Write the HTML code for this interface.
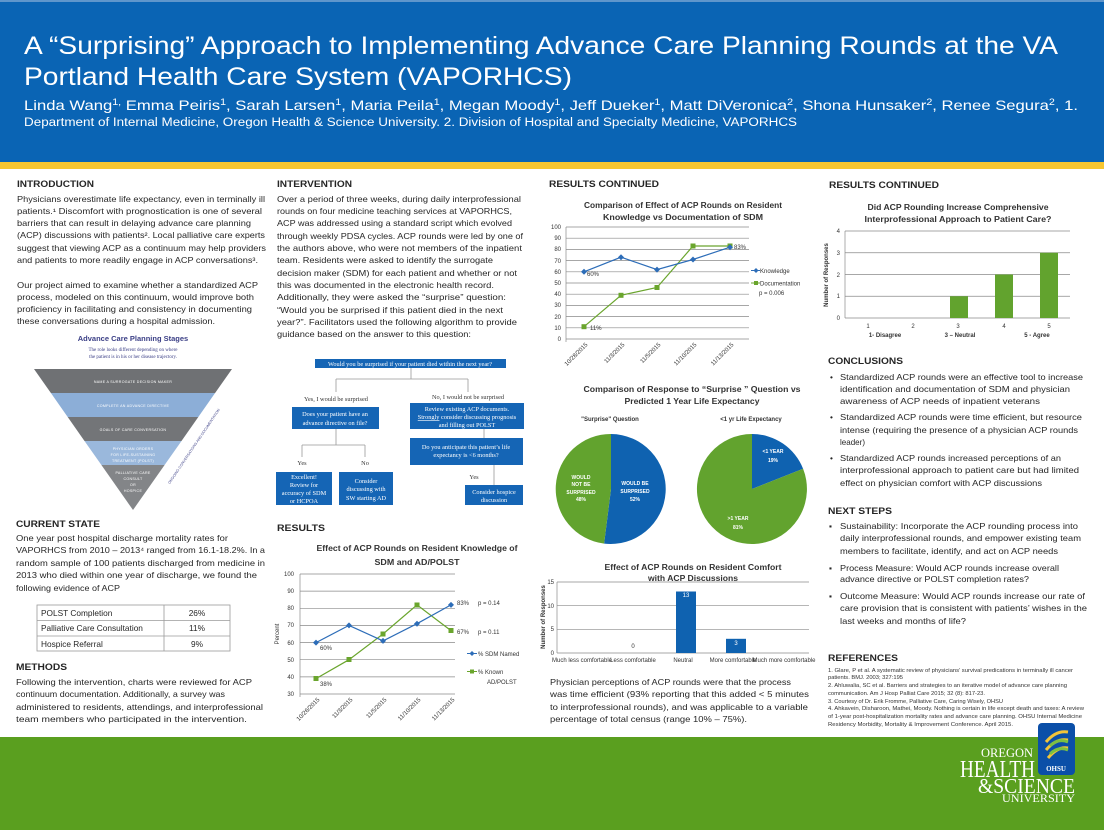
<!DOCTYPE html>
<html><head><meta charset="utf-8"><style>
html,body{margin:0;padding:0;background:#fff}
svg{display:block}
.t{font-family:"Liberation Sans",sans-serif;font-size:8.3px;fill:#262626}
.h{font-family:"Liberation Sans",sans-serif;font-size:9.5px;font-weight:bold;fill:#262626}
.ct{font-family:"Liberation Sans",sans-serif;font-size:8px;font-weight:bold;fill:#333;text-anchor:middle}
.ax{font-family:"Liberation Sans",sans-serif;font-size:6px;fill:#333}
.fc{font-family:"Liberation Serif",serif;font-size:6.3px;fill:#fff;text-anchor:middle}
.fl{font-family:"Liberation Serif",serif;font-size:6.3px;fill:#333;text-anchor:middle}
.pl{font-family:"Liberation Sans",sans-serif;font-size:5px;font-weight:bold;fill:#fff;text-anchor:middle}
.pw{font-family:"Liberation Sans",sans-serif;font-size:3.6px;fill:#fff;text-anchor:middle;letter-spacing:.3px}
.rf{font-family:"Liberation Sans",sans-serif;font-size:5.4px;fill:#333}
</style></head><body>
<svg width="1104" height="830" viewBox="0 0 1104 830" xmlns="http://www.w3.org/2000/svg">
<lengthAdjust/>
<!-- header -->
<rect x="0" y="0" width="1104" height="163" fill="#0a64b4"/>
<rect x="0" y="0" width="1104" height="2" fill="#5f96cc"/>
<rect x="0" y="162" width="1104" height="7" fill="#f8c630"/>
<g font-family="Liberation Sans, sans-serif" fill="#fff">
<text x="24" y="54" font-size="25" textLength="1034" lengthAdjust="spacingAndGlyphs">A “Surprising” Approach to Implementing Advance Care Planning Rounds at the VA</text>
<text x="24" y="85" font-size="25" textLength="548" lengthAdjust="spacingAndGlyphs">Portland Health Care System (VAPORHCS)</text>
<text x="24" y="110" font-size="14" textLength="1054" lengthAdjust="spacingAndGlyphs">Linda Wang<tspan font-size="9" dy="-5">1,</tspan><tspan dy="5"> Emma Peiris</tspan><tspan font-size="9" dy="-5">1</tspan><tspan dy="5">, Sarah Larsen</tspan><tspan font-size="9" dy="-5">1</tspan><tspan dy="5">, Maria Peila</tspan><tspan font-size="9" dy="-5">1</tspan><tspan dy="5">, Megan Moody</tspan><tspan font-size="9" dy="-5">1</tspan><tspan dy="5">, Jeff Dueker</tspan><tspan font-size="9" dy="-5">1</tspan><tspan dy="5">, Matt DiVeronica</tspan><tspan font-size="9" dy="-5">2</tspan><tspan dy="5">, Shona Hunsaker</tspan><tspan font-size="9" dy="-5">2</tspan><tspan dy="5">, Renee Segura</tspan><tspan font-size="9" dy="-5">2</tspan><tspan dy="5">, 1.</tspan></text>
<text x="24" y="126" font-size="11.5" textLength="773" lengthAdjust="spacingAndGlyphs">Department of Internal Medicine, Oregon Health &amp; Science University. 2. Division of Hospital and Specialty Medicine, VAPORHCS</text>
</g>
<!-- footer -->
<rect x="0" y="737" width="1104" height="93" fill="#5a9f1f"/>
<rect x="1038" y="723" width="37" height="52" rx="4" fill="#0b4fa8"/>
<path d="M1046 742 q10 -12 22 -10 M1046 750 q10 -12 22 -10 M1048 758 q10 -12 20 -10" stroke="#f2c43a" stroke-width="3" fill="none"/>
<path d="M1050 746 q8 -8 18 -4 M1050 754 q8 -8 18 -4" stroke="#7bc142" stroke-width="3" fill="none"/>
<text x="1056" y="771" font-family="Liberation Serif,serif" font-size="7" font-weight="bold" fill="#fff" text-anchor="middle">OHSU</text>
<g font-family="Liberation Serif, serif" fill="#fff">
<text x="981" y="757" font-size="13" textLength="52" lengthAdjust="spacingAndGlyphs">OREGON</text>
<text x="960" y="777" font-size="24" textLength="75" lengthAdjust="spacingAndGlyphs">HEALTH</text>
<text x="978" y="793" font-size="21" textLength="97" lengthAdjust="spacingAndGlyphs">&amp;SCIENCE</text>
<text x="1002" y="802" font-size="12" textLength="73" lengthAdjust="spacingAndGlyphs">UNIVERSITY</text>
</g>

<!-- headings -->
<text class="h" x="17" y="187" textLength="77" lengthAdjust="spacingAndGlyphs">INTRODUCTION</text>
<text class="h" x="277" y="187" textLength="75" lengthAdjust="spacingAndGlyphs">INTERVENTION</text>
<text class="h" x="549" y="187" textLength="110" lengthAdjust="spacingAndGlyphs">RESULTS CONTINUED</text>
<text class="h" x="829" y="188" textLength="110" lengthAdjust="spacingAndGlyphs">RESULTS CONTINUED</text>
<text class="h" x="16" y="527" textLength="84" lengthAdjust="spacingAndGlyphs">CURRENT STATE</text>
<text class="h" x="16" y="670" textLength="51" lengthAdjust="spacingAndGlyphs">METHODS</text>
<text class="h" x="277" y="531" textLength="48" lengthAdjust="spacingAndGlyphs">RESULTS</text>
<text class="h" x="828" y="364" textLength="75" lengthAdjust="spacingAndGlyphs">CONCLUSIONS</text>
<text class="h" x="828" y="514" textLength="64" lengthAdjust="spacingAndGlyphs">NEXT STEPS</text>
<text class="h" x="828" y="661" textLength="70" lengthAdjust="spacingAndGlyphs">REFERENCES</text>

<!-- intro -->
<g class="t" lengthAdjust="spacingAndGlyphs">
<text class="t" x="17" y="202" textLength="248" lengthAdjust="spacingAndGlyphs">Physicians overestimate life expectancy, even in terminally ill</text>
<text class="t" x="17" y="214" textLength="245" lengthAdjust="spacingAndGlyphs">patients.¹  Discomfort with prognostication is one of several</text>
<text class="t" x="17" y="226" textLength="234" lengthAdjust="spacingAndGlyphs">barriers that can result in delaying advance care planning</text>
<text class="t" x="17" y="238" textLength="248" lengthAdjust="spacingAndGlyphs">(ACP) discussions with patients². Local palliative care experts</text>
<text class="t" x="17" y="251" textLength="249" lengthAdjust="spacingAndGlyphs">suggest that viewing ACP as a continuum may help providers</text>
<text class="t" x="17" y="263" textLength="241" lengthAdjust="spacingAndGlyphs">and patients to more readily engage in ACP conversations³.</text>
<text class="t" x="17" y="288" textLength="241" lengthAdjust="spacingAndGlyphs">Our project aimed to examine whether a standardized ACP</text>
<text class="t" x="17" y="300" textLength="237" lengthAdjust="spacingAndGlyphs">process, modeled on this continuum, would improve both</text>
<text class="t" x="17" y="312" textLength="235" lengthAdjust="spacingAndGlyphs">proficiency in facilitating and consistency in documenting</text>
<text class="t" x="17" y="324" textLength="198" lengthAdjust="spacingAndGlyphs">these conversations during a hospital admission.</text>
</g>

<!-- pyramid -->
<text x="133" y="341" font-family="Liberation Sans,sans-serif" font-size="7.5" font-weight="bold" fill="#3b3f86" text-anchor="middle">Advance Care Planning Stages</text>
<text x="133" y="351" font-family="Liberation Serif,serif" font-size="5" fill="#3b3f86" text-anchor="middle">The role looks different depending on where</text>
<text x="133" y="358" font-family="Liberation Serif,serif" font-size="5" fill="#3b3f86" text-anchor="middle">the patient is in his or her disease trajectory.</text>
<polygon points="34,369 232,369 215.1,393 50.9,393" fill="#6f7174"/>
<polygon points="50.9,393 215.1,393 198.3,417 67.7,417" fill="#8caed7"/>
<polygon points="67.7,417 198.3,417 181.5,441 84.5,441" fill="#737578"/>
<polygon points="84.5,441 181.5,441 164.6,465 101.4,465" fill="#9ab8dc"/>
<polygon points="101.4,465 164.6,465 133,510" fill="#838588"/>
<text class="pw" x="133" y="383">NAME A SURROGATE DECISION MAKER</text>
<text class="pw" x="133" y="407">COMPLETE AN ADVANCE DIRECTIVE</text>
<text class="pw" x="133" y="431">GOALS OF CARE CONVERSATION</text>
<text class="pw" x="133" y="450">PHYSICIAN ORDERS</text>
<text class="pw" x="133" y="456">FOR LIFE-SUSTAINING</text>
<text class="pw" x="133" y="462">TREATMENT (POLST)</text>
<text class="pw" x="133" y="474">PALLIATIVE CARE</text>
<text class="pw" x="133" y="480">CONSULT</text>
<text class="pw" x="133" y="486">OR</text>
<text class="pw" x="133" y="492">HOSPICE</text>
<text x="195" y="447" font-family="Liberation Sans,sans-serif" font-size="3.6" fill="#3b3f86" text-anchor="middle" transform="rotate(-56 195 447)">ONGOING CONVERSATIONS AND DOCUMENTATION</text>

<!-- current state -->
<text class="t" x="16" y="541" textLength="212" lengthAdjust="spacingAndGlyphs">One year post hospital discharge mortality rates for</text>
<text class="t" x="16" y="553" textLength="249" lengthAdjust="spacingAndGlyphs">VAPORHCS from 2010 – 2013⁴ ranged from 16.1-18.2%.  In a</text>
<text class="t" x="16" y="566" textLength="249" lengthAdjust="spacingAndGlyphs">random sample of 100 patients discharged from medicine in</text>
<text class="t" x="16" y="578" textLength="241" lengthAdjust="spacingAndGlyphs">2013 who died within one year of discharge, we found the</text>
<text class="t" x="16" y="591" textLength="104" lengthAdjust="spacingAndGlyphs">following evidence of ACP</text>
<g fill="none" stroke="#9a9a9a" stroke-width="0.8">
<rect x="37" y="605" width="193" height="46"/>
<line x1="37" y1="620.5" x2="230" y2="620.5"/><line x1="37" y1="636" x2="230" y2="636"/>
<line x1="164" y1="605" x2="164" y2="651"/>
</g>
<text class="t" x="41" y="616">POLST Completion</text>
<text class="t" x="41" y="631">Palliative Care Consultation</text>
<text class="t" x="41" y="647">Hospice Referral</text>
<text class="t" x="197" y="616" text-anchor="middle">26%</text>
<text class="t" x="197" y="631" text-anchor="middle">11%</text>
<text class="t" x="197" y="647" text-anchor="middle">9%</text>

<!-- methods -->
<text class="t" x="16" y="685" textLength="236" lengthAdjust="spacingAndGlyphs">Following the intervention, charts were reviewed for ACP</text>
<text class="t" x="16" y="697" textLength="209" lengthAdjust="spacingAndGlyphs">continuum documentation. Additionally, a survey was</text>
<text class="t" x="16" y="710" textLength="247" lengthAdjust="spacingAndGlyphs">administered to residents, attendings, and interprofessional</text>
<text class="t" x="16" y="722" textLength="231" lengthAdjust="spacingAndGlyphs">team members who participated in the intervention.</text>

<!-- intervention -->
<text class="t" x="277" y="202" textLength="244" lengthAdjust="spacingAndGlyphs">Over a period of three weeks, during daily interprofessional</text>
<text class="t" x="277" y="214" textLength="235" lengthAdjust="spacingAndGlyphs">rounds on four medicine teaching services at VAPORHCS,</text>
<text class="t" x="277" y="226" textLength="235" lengthAdjust="spacingAndGlyphs">ACP was addressed using a standard script which evolved</text>
<text class="t" x="277" y="239" textLength="246" lengthAdjust="spacingAndGlyphs">through weekly PDSA cycles. ACP rounds were led by one of</text>
<text class="t" x="277" y="251" textLength="245" lengthAdjust="spacingAndGlyphs">the authors above, who were not members of the inpatient</text>
<text class="t" x="277" y="263" textLength="216" lengthAdjust="spacingAndGlyphs">team. Residents were asked to identify the surrogate</text>
<text class="t" x="277" y="276" textLength="240" lengthAdjust="spacingAndGlyphs">decision maker (SDM) for each patient and whether or not</text>
<text class="t" x="277" y="288" textLength="217" lengthAdjust="spacingAndGlyphs">this was documented in the electronic health record.</text>
<text class="t" x="277" y="300" textLength="229" lengthAdjust="spacingAndGlyphs">Additionally, they were asked the “surprise” question:</text>
<text class="t" x="277" y="313" textLength="226" lengthAdjust="spacingAndGlyphs">“Would you be surprised if this patient died in the next</text>
<text class="t" x="277" y="325" textLength="240" lengthAdjust="spacingAndGlyphs">year?”. Facilitators used the following algorithm to provide</text>
<text class="t" x="277" y="337" textLength="194" lengthAdjust="spacingAndGlyphs">guidance based on the answer to this question:</text>

<!-- flowchart -->
<g stroke="#999" stroke-width="0.8" fill="none">
<path d="M411 367 V379 M336 379 H468 M336 379 V392 M468 379 V392"/>
<path d="M336 429 V445 M302 445 H365 M302 445 V457 M365 445 V457"/>
<path d="M484 429 V438 M494 465 V472 H494 V485"/>
</g>
<g fill="#1565b5">
<rect x="315" y="359" width="191" height="9"/>
<rect x="292" y="407" width="87" height="22"/>
<rect x="410" y="403" width="114" height="26"/>
<rect x="410" y="438" width="113" height="27"/>
<rect x="276" y="472" width="56" height="33"/>
<rect x="339" y="472" width="54" height="33"/>
<rect x="465" y="485" width="58" height="20"/>
</g>
<text class="fc" x="410" y="366">Would you be surprised if your patient died within the next year?</text>
<text class="fl" x="336" y="401">Yes, I would be surprised</text>
<text class="fl" x="468" y="399">No, I would not be surprised</text>
<text class="fc" x="335" y="416">Does your patient have an</text>
<text class="fc" x="335" y="425">advance directive on file?</text>
<text class="fc" x="467" y="411">Review existing ACP documents.</text>
<text class="fc" x="467" y="419"><tspan text-decoration="underline">Strongly</tspan> consider discussing prognosis</text>
<text class="fc" x="467" y="427">and filling out POLST</text>
<text class="fc" x="466" y="449">Do you anticipate this patient’s life</text>
<text class="fc" x="466" y="457">expectancy is &lt;6 months?</text>
<text class="fl" x="302" y="465">Yes</text>
<text class="fl" x="365" y="465">No</text>
<text class="fl" x="474" y="479">Yes</text>
<text class="fc" x="304" y="479">Excellent!</text>
<text class="fc" x="304" y="487">Review for</text>
<text class="fc" x="304" y="495">accuracy of SDM</text>
<text class="fc" x="304" y="503">or HCPOA</text>
<text class="fc" x="366" y="483">Consider</text>
<text class="fc" x="366" y="491">discussing with</text>
<text class="fc" x="366" y="500">SW starting AD</text>
<text class="fc" x="494" y="494">Consider hospice</text>
<text class="fc" x="494" y="502">discussion</text>

<!-- results chart col2 -->
<text class="ct" x="417" y="551" textLength="201" lengthAdjust="spacingAndGlyphs">Effect of ACP Rounds on Resident Knowledge of</text>
<text class="ct" x="417" y="565" textLength="85" lengthAdjust="spacingAndGlyphs">SDM and AD/POLST</text>
<g stroke="#8a8a8a" stroke-width="0.7">
<line x1="300" y1="574" x2="455" y2="574"/><line x1="300" y1="591.1" x2="455" y2="591.1"/>
<line x1="300" y1="608.3" x2="455" y2="608.3"/><line x1="300" y1="625.4" x2="455" y2="625.4"/>
<line x1="300" y1="642.6" x2="455" y2="642.6"/><line x1="300" y1="659.7" x2="455" y2="659.7"/>
<line x1="300" y1="676.9" x2="455" y2="676.9"/><line x1="300" y1="694" x2="455" y2="694"/>
<line x1="300" y1="574" x2="300" y2="697"/>
</g>
<g class="ax" text-anchor="end">
<text x="294" y="576">100</text><text x="294" y="593">90</text><text x="294" y="610">80</text><text x="294" y="627">70</text>
<text x="294" y="645">60</text><text x="294" y="662">50</text><text x="294" y="679">40</text><text x="294" y="696">30</text>
</g>
<text class="ax" x="279" y="634" text-anchor="middle" transform="rotate(-90 279 634)">Percent</text>
<polyline points="316,678.6 349,659.7 383,634 417,604.9 451,630.6" fill="none" stroke="#6aa52d" stroke-width="1.2"/>
<polyline points="316,642.6 349,625.4 383,640.9 417,623.7 451,604.9" fill="none" stroke="#2d6db8" stroke-width="1.2"/>
<g fill="#6aa52d"><rect x="313.5" y="676" width="5" height="5"/><rect x="346.5" y="657" width="5" height="5"/><rect x="380.5" y="631.5" width="5" height="5"/><rect x="414.5" y="602.5" width="5" height="5"/><rect x="448.5" y="628" width="5" height="5"/></g>
<g fill="#2d6db8"><path d="M316 639.6l3 3-3 3-3-3z M349 622.4l3 3-3 3-3-3z M383 637.9l3 3-3 3-3-3z M417 620.7l3 3-3 3-3-3z M451 601.9l3 3-3 3-3-3z"/></g>
<g class="ax" font-size="6.5">
<text x="320" y="650">60%</text><text x="320" y="686">38%</text>
<text x="457" y="605">83%</text><text x="457" y="634">67%</text>
<text x="478" y="605">p = 0.14</text><text x="478" y="634">p = 0.11</text>
<path d="M472 651l2.5 2.5-2.5 2.5-2.5-2.5z" fill="#2d6db8"/><line x1="467" y1="653.5" x2="477" y2="653.5" stroke="#2d6db8"/>
<text x="478" y="656">% SDM Named</text>
<rect x="470" y="669.5" width="4" height="4" fill="#6aa52d"/><line x1="467" y1="671.5" x2="477" y2="671.5" stroke="#6aa52d"/>
<text x="478" y="674">% Known</text><text x="487" y="684">AD/POLST</text>
</g>
<g class="ax" text-anchor="end">
<text transform="translate(320 700) rotate(-45)">10/26/2015</text>
<text transform="translate(353 700) rotate(-45)">11/3/2015</text>
<text transform="translate(387 700) rotate(-45)">11/5/2015</text>
<text transform="translate(421 700) rotate(-45)">11/10/2015</text>
<text transform="translate(455 700) rotate(-45)">11/13/2015</text>
</g>

<!-- col3 line chart -->
<text class="ct" x="683" y="208" textLength="198" lengthAdjust="spacingAndGlyphs">Comparison of Effect of ACP Rounds on Resident</text>
<text class="ct" x="683" y="220" textLength="160" lengthAdjust="spacingAndGlyphs">Knowledge vs Documentation of SDM</text>
<g stroke="#8a8a8a" stroke-width="0.7">
<line x1="566" y1="227" x2="749" y2="227"/><line x1="566" y1="238.2" x2="749" y2="238.2"/><line x1="566" y1="249.4" x2="749" y2="249.4"/>
<line x1="566" y1="260.6" x2="749" y2="260.6"/><line x1="566" y1="271.8" x2="749" y2="271.8"/><line x1="566" y1="283" x2="749" y2="283"/>
<line x1="566" y1="294.2" x2="749" y2="294.2"/><line x1="566" y1="305.4" x2="749" y2="305.4"/><line x1="566" y1="316.6" x2="749" y2="316.6"/>
<line x1="566" y1="327.8" x2="749" y2="327.8"/><line x1="566" y1="339" x2="749" y2="339"/>
<line x1="566" y1="227" x2="566" y2="342"/>
</g>
<g class="ax" text-anchor="end">
<text x="561" y="229">100</text><text x="561" y="240">90</text><text x="561" y="251">80</text><text x="561" y="263">70</text>
<text x="561" y="274">60</text><text x="561" y="285">50</text><text x="561" y="296">40</text><text x="561" y="307">30</text>
<text x="561" y="319">20</text><text x="561" y="330">10</text><text x="561" y="341">0</text>
</g>
<polyline points="584,326.7 621,295.3 657,287.5 693,246 730,246" fill="none" stroke="#6aa52d" stroke-width="1.2"/>
<polyline points="584,271.8 621,257.2 657,269.6 693,259.5 730,247.2" fill="none" stroke="#2d6db8" stroke-width="1.2"/>
<g fill="#6aa52d"><rect x="581.5" y="324.2" width="5" height="5"/><rect x="618.5" y="292.8" width="5" height="5"/><rect x="654.5" y="285" width="5" height="5"/><rect x="690.5" y="243.5" width="5" height="5"/><rect x="727.5" y="243.5" width="5" height="5"/></g>
<path d="M584 268.8l3 3-3 3-3-3z M621 254.2l3 3-3 3-3-3z M657 266.6l3 3-3 3-3-3z M693 256.5l3 3-3 3-3-3z M730 244.2l3 3-3 3-3-3z" fill="#2d6db8"/>
<g class="ax" font-size="6.5">
<text x="587" y="276">60%</text><text x="590" y="330">11%</text><text x="734" y="249">83%</text>
<path d="M756 268l2.5 2.5-2.5 2.5-2.5-2.5z" fill="#2d6db8"/><line x1="751" y1="270.5" x2="760" y2="270.5" stroke="#2d6db8"/>
<text x="760" y="273">Knowledge</text>
<rect x="754" y="281" width="4" height="4" fill="#6aa52d"/><line x1="751" y1="283" x2="760" y2="283" stroke="#6aa52d"/>
<text x="760" y="285.5">Documentation</text>
<text x="759" y="295">p = 0.006</text>
</g>
<g class="ax" text-anchor="end">
<text transform="translate(588 345) rotate(-45)">10/28/2015</text>
<text transform="translate(625 345) rotate(-45)">11/3/2015</text>
<text transform="translate(661 345) rotate(-45)">11/5/2015</text>
<text transform="translate(697 345) rotate(-45)">11/10/2015</text>
<text transform="translate(734 345) rotate(-45)">11/13/2015</text>
</g>

<!-- pies -->
<text class="ct" x="692" y="392" textLength="217" lengthAdjust="spacingAndGlyphs">Comparison of Response to “Surprise ” Question vs</text>
<text class="ct" x="692" y="404" textLength="135" lengthAdjust="spacingAndGlyphs">Predicted 1 Year Life Expectancy</text>
<text class="ax" x="610" y="421" text-anchor="middle" font-size="5.5" font-weight="bold">"Surprise" Question</text>
<text class="ax" x="751" y="421" text-anchor="middle" font-size="5.5" font-weight="bold">&lt;1 yr Life Expectancy</text>
<path d="M611 489 L611 434 A55 55 0 1 1 604.1 543.6 Z" fill="#0f62b0"/>
<path d="M611 489 L604.1 543.6 A55 55 0 0 1 611 434 Z" fill="#62a32e"/>
<path d="M752 489 L752 434 A55 55 0 0 1 803.1 468.8 Z" fill="#0f62b0"/>
<path d="M752 489 L803.1 468.8 A55 55 0 1 1 752 434 Z" fill="#62a32e"/>
<text class="pl" x="635" y="485">WOULD BE</text><text class="pl" x="635" y="493">SURPRISED</text><text class="pl" x="635" y="501">52%</text>
<text class="pl" x="581" y="479">WOULD</text><text class="pl" x="581" y="486">NOT BE</text><text class="pl" x="581" y="494">SURPRISED</text><text class="pl" x="581" y="501">48%</text>
<text class="pl" x="773" y="453" font-size="6.5">&lt;1 YEAR</text><text class="pl" x="773" y="462" font-size="6.5">19%</text>
<text class="pl" x="738" y="520" font-size="6.5">&gt;1 YEAR</text><text class="pl" x="738" y="529" font-size="6.5">81%</text>

<!-- comfort bar -->
<text class="ct" x="693" y="570" textLength="177" lengthAdjust="spacingAndGlyphs">Effect of ACP Rounds on Resident Comfort</text>
<text class="ct" x="693" y="581" textLength="90" lengthAdjust="spacingAndGlyphs">with ACP Discussions</text>
<g stroke="#8a8a8a" stroke-width="0.7">
<line x1="557" y1="582" x2="809" y2="582"/><line x1="557" y1="605.7" x2="809" y2="605.7"/>
<line x1="557" y1="629.3" x2="809" y2="629.3"/><line x1="557" y1="653" x2="809" y2="653"/>
<line x1="557" y1="582" x2="557" y2="653"/>
</g>
<rect x="676" y="591.5" width="20" height="61.5" fill="#0f62b0"/>
<rect x="726" y="638.8" width="20" height="14.2" fill="#0f62b0"/>
<g class="ax" font-size="5" text-anchor="middle">
<text x="686" y="597" fill="#fff">13</text><text x="736" y="645" fill="#fff">3</text><text x="633" y="648">0</text>
</g>
<g class="ax" text-anchor="end"><text x="554" y="584">15</text><text x="554" y="608">10</text><text x="554" y="631">5</text><text x="554" y="655">0</text></g>
<text class="ax" x="545" y="617" text-anchor="middle" font-weight="bold" transform="rotate(-90 545 617)">Number of Responses</text>
<g class="ax" font-size="5" text-anchor="middle" fill="#555">
<text x="582" y="662">Much less comfortable</text><text x="633" y="662">Less comfortable</text><text x="683" y="662">Neutral</text><text x="733" y="662">More comfortable</text><text x="784" y="662">Much more comfortable</text>
</g>
<text class="t" x="550" y="685" textLength="241" lengthAdjust="spacingAndGlyphs">Physician perceptions of ACP rounds were that the process</text>
<text class="t" x="550" y="697" textLength="259" lengthAdjust="spacingAndGlyphs">was time efficient (93% reporting that this added &lt; 5 minutes</text>
<text class="t" x="550" y="710" textLength="258" lengthAdjust="spacingAndGlyphs">to interprofessional rounds), and was applicable to a variable</text>
<text class="t" x="550" y="722" textLength="197" lengthAdjust="spacingAndGlyphs">percentage of total census (range 10% – 75%).</text>

<!-- col4 bar chart -->
<text class="ct" x="958" y="210" textLength="181" lengthAdjust="spacingAndGlyphs">Did ACP Rounding Increase Comprehensive</text>
<text class="ct" x="958" y="222" textLength="187" lengthAdjust="spacingAndGlyphs">Interprofessional Approach to Patient Care?</text>
<g stroke="#8a8a8a" stroke-width="0.7">
<line x1="845" y1="231" x2="1070" y2="231"/><line x1="845" y1="252.75" x2="1070" y2="252.75"/>
<line x1="845" y1="274.5" x2="1070" y2="274.5"/><line x1="845" y1="296.25" x2="1070" y2="296.25"/>
<line x1="845" y1="318" x2="1070" y2="318"/><line x1="845" y1="231" x2="845" y2="318"/>
</g>
<g fill="#62a32e">
<rect x="950" y="296.25" width="18" height="21.75"/><rect x="995" y="274.5" width="18" height="43.5"/><rect x="1040" y="252.75" width="18" height="65.25"/>
</g>
<g class="ax" text-anchor="end"><text x="840" y="233">4</text><text x="840" y="255">3</text><text x="840" y="277">2</text><text x="840" y="298">1</text><text x="840" y="320">0</text></g>
<text class="ax" x="828" y="275" text-anchor="middle" font-weight="bold" transform="rotate(-90 828 275)">Number of Responses</text>
<g class="ax" font-size="4.5" text-anchor="middle"><text x="868" y="328">1</text><text x="913" y="328">2</text><text x="958" y="328">3</text><text x="1004" y="328">4</text><text x="1049" y="328">5</text></g>
<g class="ax" font-size="6" font-weight="bold" text-anchor="middle"><text x="885" y="337">1- Disagree</text><text x="960" y="337">3 – Neutral</text><text x="1037" y="337">5 - Agree</text></g>

<!-- conclusions -->
<g class="t"><text x="830" y="380">•</text><text x="830" y="420">•</text><text x="830" y="461">•</text>
<text x="829" y="529">▪</text><text x="829" y="571">▪</text><text x="829" y="599">▪</text></g>
<text class="t" x="840" y="380" textLength="243" lengthAdjust="spacingAndGlyphs">Standardized ACP rounds were an effective tool to increase</text>
<text class="t" x="840" y="392" textLength="230" lengthAdjust="spacingAndGlyphs">identification and documentation of SDM and physician</text>
<text class="t" x="840" y="404" textLength="200" lengthAdjust="spacingAndGlyphs">awareness of ACP needs of inpatient veterans</text>
<text class="t" x="840" y="420" textLength="242" lengthAdjust="spacingAndGlyphs">Standardized ACP rounds were time efficient, but resource</text>
<text class="t" x="840" y="433" textLength="238" lengthAdjust="spacingAndGlyphs">intense (requiring the presence of a physician ACP rounds</text>
<text class="t" x="840" y="445" textLength="25" lengthAdjust="spacingAndGlyphs">leader)</text>
<text class="t" x="840" y="461" textLength="221" lengthAdjust="spacingAndGlyphs">Standardized ACP rounds increased perceptions of an</text>
<text class="t" x="840" y="473" textLength="239" lengthAdjust="spacingAndGlyphs">interprofessional approach to patient care but had limited</text>
<text class="t" x="840" y="486" textLength="202" lengthAdjust="spacingAndGlyphs">effect on physician comfort with ACP discussions</text>

<text class="t" x="840" y="529" textLength="238" lengthAdjust="spacingAndGlyphs">Sustainability: Incorporate the ACP rounding process into</text>
<text class="t" x="840" y="541" textLength="241" lengthAdjust="spacingAndGlyphs">daily interprofessional rounds, and empower existing team</text>
<text class="t" x="840" y="554" textLength="218" lengthAdjust="spacingAndGlyphs">members to facilitate, identify, and act on ACP needs</text>
<text class="t" x="840" y="571" textLength="219" lengthAdjust="spacingAndGlyphs">Process Measure: Would ACP rounds increase overall</text>
<text class="t" x="840" y="582" textLength="189" lengthAdjust="spacingAndGlyphs">advance directive or POLST completion rates?</text>
<text class="t" x="840" y="599" textLength="245" lengthAdjust="spacingAndGlyphs">Outcome Measure:  Would ACP rounds increase our rate of</text>
<text class="t" x="840" y="611" textLength="247" lengthAdjust="spacingAndGlyphs">care provision that is consistent with patients’ wishes in the</text>
<text class="t" x="840" y="624" textLength="126" lengthAdjust="spacingAndGlyphs">last weeks and months of life?</text>

<!-- references -->
<text class="rf" x="828" y="672" textLength="245" lengthAdjust="spacingAndGlyphs">1. Glare, P et al.  A systematic review of physicians’ survival predications in terminally ill cancer</text>
<text class="rf" x="828" y="679" textLength="75" lengthAdjust="spacingAndGlyphs">patients. BMJ. 2003; 327:195</text>
<text class="rf" x="828" y="687" textLength="239" lengthAdjust="spacingAndGlyphs">2. Ahluwalia, SC et al.  Barriers and strategies to an iterative model of advance care planning</text>
<text class="rf" x="828" y="695" textLength="157" lengthAdjust="spacingAndGlyphs">communication. Am J Hosp Palliat Care 2015; 32 (8): 817-23.</text>
<text class="rf" x="828" y="703" textLength="175" lengthAdjust="spacingAndGlyphs">3. Courtesy of Dr. Erik Fromme, Palliative Care, Caring Wisely, OHSU</text>
<text class="rf" x="828" y="710" textLength="256" lengthAdjust="spacingAndGlyphs">4. Ahkavein, Disharoon, Mathei, Moody.  Nothing is certain in life except death and taxes: A review</text>
<text class="rf" x="828" y="718" textLength="254" lengthAdjust="spacingAndGlyphs">of 1-year post-hospitalization mortality rates and advance care planning.  OHSU Internal Medicine</text>
<text class="rf" x="828" y="726" textLength="185" lengthAdjust="spacingAndGlyphs">Residency Morbidity, Mortality &amp; Improvement Conference. April 2015.</text>
</svg>
</body></html>
